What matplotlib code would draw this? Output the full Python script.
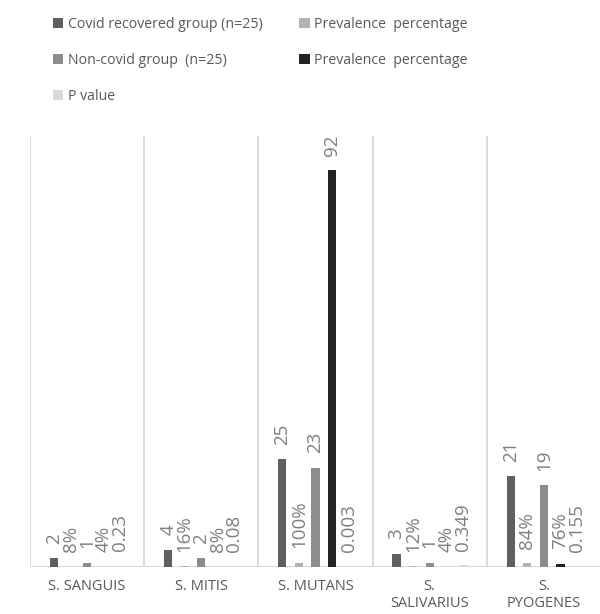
import matplotlib
matplotlib.use("Agg")
import matplotlib.pyplot as plt
from matplotlib.patches import Patch
import numpy as np

plt.rcParams['font.family'] = ['Open Sans', 'DejaVu Sans']

categories = ["S. SANGUIS", "S. MITIS", "S. MUTANS", "S.\nSALIVARIUS", "S.\nPYOGENES"]
covid = [2, 4, 25, 3, 21]
prev_covid = [0.08, 0.16, 1.00, 0.12, 0.84]
noncovid = [1, 2, 23, 1, 19]
prev_noncovid = [0.04, 0.08, 92, 0.04, 0.76]
pvalue = [0.23, 0.08, 0.003, 0.349, 0.155]

series_names = ["Covid recovered group (n=25)", "Prevalence  percentage",
                "Non-covid group  (n=25)", "Prevalence  percentage", "P value"]
series_vals = [covid, prev_covid, noncovid, prev_noncovid, pvalue]
series_kinds = ["int", "pct", "int", "pct", "g"]
colors = ["#5f5f5f", "#b3b3b3", "#8c8c8c", "#232323", "#d9d9d9"]

def fmt(v, kind):
    if kind == "int":
        return f"{v:g}"
    if kind == "pct":
        return f"{v*100:.0f}%" if v <= 1 else f"{v:g}"
    return f"{v:g}"

W, H = 600, 614
fig = plt.figure(figsize=(W/100, H/100), dpi=100)
ax = fig.add_axes([30/W, 1-567/H, 571/W, 431/H])

x = np.arange(len(categories))
step = 0.145
width = 0.072
text_color = "#7f7f7f"
for i, (name, vals, kind, c) in enumerate(zip(series_names, series_vals, series_kinds, colors)):
    pos = x + (i-2)*step
    ax.bar(pos, vals, width=width, color=c, zorder=3)
    for px_, v in zip(pos, vals):
        ax.annotate(fmt(v, kind), (px_, v), xytext=(0, 10.5), textcoords="offset points",
                    rotation=90, ha="center", va="bottom", fontsize=13.5,
                    color=text_color, zorder=4)

ax.set_xlim(-0.5, 4.5)
ax.set_ylim(0, 100)
for b in np.arange(-0.5, 4.5, 1.0):
    ax.axvline(b, color="#d9d9d9", lw=1.3, zorder=1)
ax.axhline(0, color="#d9d9d9", lw=1.5, zorder=2)
for s in ax.spines.values():
    s.set_visible(False)
ax.set_yticks([])
ax.set_xticks(x)
ax.set_xticklabels(categories, fontsize=10.5, color="#595959", linespacing=1.15)
ax.tick_params(axis="x", length=0, pad=9)
for lbl in ax.get_xticklabels():
    lbl.set_va("top")

order = [0, 2, 4, 1, 3]
handles = [Patch(facecolor=colors[k], edgecolor="none") for k in order]
labels = [series_names[k] for k in order]
fig.legend(handles, labels, ncol=2, loc="upper left", bbox_to_anchor=(40/W, 1-4/H),
           frameon=False, fontsize=10.2, labelcolor="#595959",
           handlelength=0.75, handleheight=0.75, handletextpad=0.3,
           labelspacing=1.5, columnspacing=2.6)

fig.savefig("out.png", dpi=100)
